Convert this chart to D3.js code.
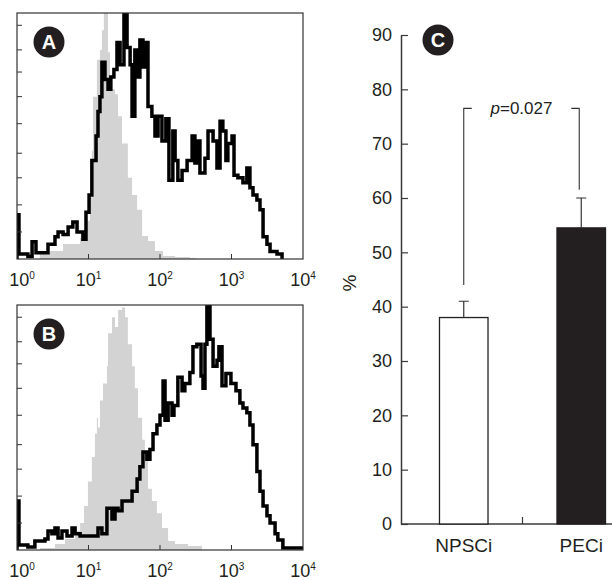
<!DOCTYPE html>
<html>
<head>
<meta charset="utf-8">
<script src="https://cdn.jsdelivr.net/npm/d3@7"></script>
<style>
body { margin: 0; background: #fff; }
svg { display: block; font-family: "Liberation Sans", Arial, Helvetica, sans-serif; }
</style>
</head>
<body>
<div id="chart"></div>
<script>
// flow histograms, [channel (1024 ch over 4 decades), events]
let histAControl = [[60,0],[82,2],[118,3.3],[165,6.1],[226,8.6],[243,12],[251,15.5],[261,25],[268,44],[272,66],[286,81],[297,85],[304,93],[311,100],[322,100],[326,84],[333,69],[351,67],[362,58],[376,47],[397,33],[412,26],[430,20],[448,9.4],[469,7.3],[494,3.3],[523,1.2],[566,0.8],[619,0.4],[644,0]];
let histAStained = [[0,0],[0,18],[7,2],[39,1],[54,7],[68,2.5],[97,2.5],[111,6],[136,9],[147,11],[165,10],[183,13],[200,15],[215,11],[233,11],[236,8],[247,19],[258,26],[268,40],[283,50],[290,60],[297,66],[304,80],[315,73],[326,69],[336,74],[347,77],[358,88],[369,79],[383,100],[394,86],[405,79],[412,58],[422,85],[430,74],[440,89],[451,78],[458,88],[469,62],[483,58],[494,50],[505,58],[519,48],[533,57],[544,32],[558,52],[566,40],[576,32],[591,36],[609,40],[627,50],[637,39],[648,48],[655,35],[673,41],[684,52],[702,48],[716,37],[727,56],[737,52],[748,40],[755,47],[770,50],[777,34],[791,33],[809,31],[823,37],[834,29],[845,26],[859,24],[870,20],[881,9],[895,6],[906,3],[931,2],[949,0]];
let histBControl = [[60,0],[82,0.8],[136,2.5],[172,4.5],[208,7.8],[226,11],[240,18],[254,28],[268,38],[279,47.5],[286,54],[290,50],[297,61],[308,68],[322,75],[326,88.5],[340,95],[351,91],[362,98],[376,99],[387,95],[397,84],[412,75],[422,66],[433,54],[448,45],[458,36.5],[469,25],[483,20],[501,15],[519,9],[541,3.7],[566,2.5],[612,1.6],[662,0]];
let histBStained = [[0,0],[0,20],[7,2],[39,1.2],[64,3.7],[100,4.5],[111,7.8],[125,6.6],[136,9],[147,4.9],[161,7.8],[179,5.7],[197,9],[208,6.6],[226,5.7],[279,5.7],[290,9],[304,6.6],[322,17],[340,12.7],[351,17],[362,16],[376,20],[394,20],[412,24],[430,29],[440,34],[451,40],[465,37],[476,41],[487,47.5],[501,51],[512,55],[523,69],[530,53],[541,60],[555,55],[562,59],[576,70.5],[591,65],[601,68],[619,72.5],[630,83],[644,84],[659,71],[666,66],[673,84],[680,100],[691,86],[702,75],[716,77.5],[723,83],[734,67],[748,72],[766,68],[784,65],[798,60],[809,58],[823,56],[834,51],[845,43],[859,32],[870,24],[881,18],[895,14],[906,11],[924,6.6],[934,4.1],[952,0.8],[1024,0.8]];

let decades = [0, 1, 2, 3, 4];
let countTicks = [11, 22, 33, 43, 55, 66, 76, 85, 95];

// bar chart
let groups = ["NPSCi", "PECi"];
let means = [38, 54.5];
let upperErr = [41, 60];
let percentTicks = [0, 10, 20, 30, 40, 50, 60, 70, 80, 90];
let bracketTop = 76.5;
let bracketLegs = [44, 61.5];
let pValue = "0.027";

let width = 612, height = 580;
let ink = "#231f20";

let svg = d3.select("#chart").append("svg")
    .attr("width", width)
    .attr("height", height);

let x = d3.scaleLog().domain([1, 1e4]).range([17, 303]);
let chToValue = ch => Math.pow(10, ch / 256);

function badge(cx, cy, letter) {
    svg.append("circle").attr("cx", cx).attr("cy", cy).attr("r", 15.5).attr("fill", ink);
    svg.append("text").attr("x", cx).attr("y", cy).attr("dy", "0.36em")
        .attr("text-anchor", "middle").attr("fill", "#fff")
        .attr("font-size", 20).attr("font-weight", "bold").text(letter);
}

function histPanel(letter, top, bottom, control, stained) {
    let y = d3.scaleLinear().domain([0, 100]).range([bottom, top]);
    let [x0, x1] = x.range();
    let g = svg.append("g");

    g.append("clipPath").attr("id", "clip" + letter)
        .append("rect").attr("x", x0).attr("y", top).attr("width", x1 - x0).attr("height", bottom - top);

    let area = d3.area().curve(d3.curveStepAfter)
        .x(d => x(chToValue(d[0]))).y0(bottom).y1(d => y(d[1]));
    let line = d3.line().curve(d3.curveStepAfter)
        .x(d => x(chToValue(d[0]))).y(d => y(d[1]));

    g.append("path").datum(control)
        .attr("d", area).attr("fill", "#d3d3d3")
        .attr("clip-path", `url(#clip${letter})`);
    g.append("path").datum(stained)
        .attr("d", line).attr("fill", "none").attr("stroke", "#000").attr("stroke-width", 3.5)
        .attr("clip-path", `url(#clip${letter})`);

    g.append("rect")
        .attr("x", x0).attr("y", top).attr("width", x1 - x0).attr("height", bottom - top)
        .attr("fill", "none").attr("stroke", "#333").attr("stroke-width", 1.2);

    g.selectAll(".yt").data(countTicks).join("line")
        .attr("x1", x0).attr("x2", x0 + 5)
        .attr("y1", d => y(d)).attr("y2", d => y(d))
        .attr("stroke", "#333");

    g.selectAll(".xt").data(decades.slice(1, -1)).join("line")
        .attr("x1", d => x(Math.pow(10, d))).attr("x2", d => x(Math.pow(10, d)))
        .attr("y1", bottom).attr("y2", bottom - 5)
        .attr("stroke", "#333");

    let lab = g.selectAll(".xl").data(decades).join("text")
        .attr("x", d => Math.min(Math.max(x(Math.pow(10, d)), x0 + 5), x1 + 3))
        .attr("y", bottom + 27)
        .attr("text-anchor", "middle")
        .attr("font-size", 18)
        .attr("fill", ink);
    lab.append("tspan").text("10");
    lab.append("tspan").attr("dy", -7).attr("font-size", 10).text(d => d);

    badge(49, top + 29, letter);
}

histPanel("A", 13, 259, histAControl, histAStained);
histPanel("B", 305, 550, histBControl, histBStained);

// panel C
let yC = d3.scaleLinear().domain([0, 90]).range([524, 35]);
let xC = d3.scaleBand().domain(groups).range([405, 640]).paddingInner(0.587).paddingOuter(0.2935);
let axisX = 401;
let mid = g => xC(g) + xC.bandwidth() / 2;

let axis = svg.append("g")
    .attr("transform", `translate(${axisX},0)`)
    .attr("color", ink)
    .call(d3.axisLeft(yC).tickValues(percentTicks).tickSizeInner(-7).tickSizeOuter(0).tickPadding(9));
axis.selectAll("text").attr("font-size", 18).attr("font-family", null);
axis.select(".domain").attr("stroke", "#3a3a3a").attr("stroke-width", 1.5);
axis.selectAll(".tick line").attr("stroke", "#3a3a3a").attr("stroke-width", 1.2);

svg.append("line")
    .attr("x1", axisX).attr("x2", width)
    .attr("y1", yC(0)).attr("y2", yC(0))
    .attr("stroke", "#3a3a3a").attr("stroke-width", 1.5);
let sep = (xC(groups[0]) + xC.bandwidth() + xC(groups[1])) / 2;
svg.append("line")
    .attr("x1", sep).attr("x2", sep)
    .attr("y1", yC(0)).attr("y2", yC(0) - 7)
    .attr("stroke", "#3a3a3a").attr("stroke-width", 1.2);

svg.selectAll(".bar").data(groups).join("rect")
    .attr("x", d => xC(d))
    .attr("y", (d, i) => yC(means[i]))
    .attr("width", xC.bandwidth())
    .attr("height", (d, i) => yC(0) - yC(means[i]))
    .attr("fill", (d, i) => i === 0 ? "#fff" : ink)
    .attr("stroke", ink).attr("stroke-width", 1.3);

svg.selectAll(".err").data(groups).join("path")
    .attr("d", (d, i) => `M${mid(d)},${yC(means[i])}V${yC(upperErr[i])}M${mid(d) - 5},${yC(upperErr[i])}H${mid(d) + 5}`)
    .attr("fill", "none").attr("stroke", "#333").attr("stroke-width", 1.2);

let lx = mid(groups[0]), rx = mid(groups[1]) - 2;
svg.append("path")
    .attr("d", `M${lx},${yC(bracketLegs[0])}V${yC(bracketTop)}H${lx + 8}M${rx - 8},${yC(bracketTop)}H${rx}V${yC(bracketLegs[1])}`)
    .attr("fill", "none").attr("stroke", "#333").attr("stroke-width", 1.1);

let pt = svg.append("text")
    .attr("x", (lx + rx) / 2).attr("y", yC(bracketTop)).attr("dy", "0.35em")
    .attr("text-anchor", "middle").attr("font-size", 17).attr("fill", ink);
pt.append("tspan").attr("font-style", "italic").text("p");
pt.append("tspan").text("=" + pValue);

svg.selectAll(".cl").data(groups).join("text")
    .attr("x", d => mid(d)).attr("y", 552)
    .attr("text-anchor", "middle").attr("font-size", 19).attr("fill", ink)
    .text(d => d);

svg.append("text")
    .attr("transform", "translate(349,283) rotate(-90)")
    .attr("dy", "0.35em")
    .attr("text-anchor", "middle").attr("font-size", 19).attr("fill", ink)
    .text("%");

badge(438, 40, "C");
</script>
</body>
</html>
